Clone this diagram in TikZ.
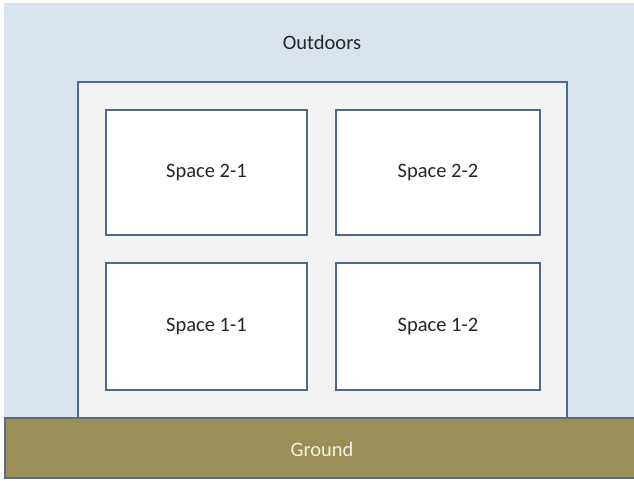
\documentclass[tikz,border=0pt]{standalone}
\usepackage{fontspec}
\setmainfont{Carlito}
\definecolor{sky}{HTML}{D8E3EE}
\definecolor{wall}{HTML}{4E6890}
\definecolor{house}{HTML}{F2F2F2}
\definecolor{soil}{HTML}{998F57}
\definecolor{soilline}{HTML}{5C6B7C}
\definecolor{soiltext}{HTML}{F3F1E2}
\tikzset{
  lbl/.style={font=\fontsize{20.5}{24}\selectfont, text=black!85},
  spacebox/.style={draw=wall, line width=1.6pt, fill=white},
}
\begin{document}
\begin{tikzpicture}[x=1pt,y=-1pt]
\useasboundingbox (0,0) rectangle (634,480);
\fill[white] (0,0) rectangle (634,480);
\fill[sky] (4,3) rectangle (634,418);
\node[lbl] (outdoors) at (322,42) {Outdoors};
\draw[draw=wall, line width=1.6pt, fill=house] (78,82) rectangle (567,418);
\draw[spacebox] (106,110) rectangle (307,235);
\node[lbl] (s21) at (206.5,172.5) {Space 2-1};
\draw[spacebox] (336,110) rectangle (540,235);
\node[lbl] (s22) at (438,172.5) {Space 2-2};
\draw[spacebox] (106,263) rectangle (307,390);
\node[lbl] (s11) at (206.5,326.5) {Space 1-1};
\draw[spacebox] (336,263) rectangle (540,390);
\node[lbl] (s12) at (438,326.5) {Space 1-2};
\draw[draw=soilline, line width=1.6pt, fill=soil] (5,418) rectangle (640,478);
\node[lbl, text=soiltext] (ground) at (322,449) {Ground};
\end{tikzpicture}
\end{document}
